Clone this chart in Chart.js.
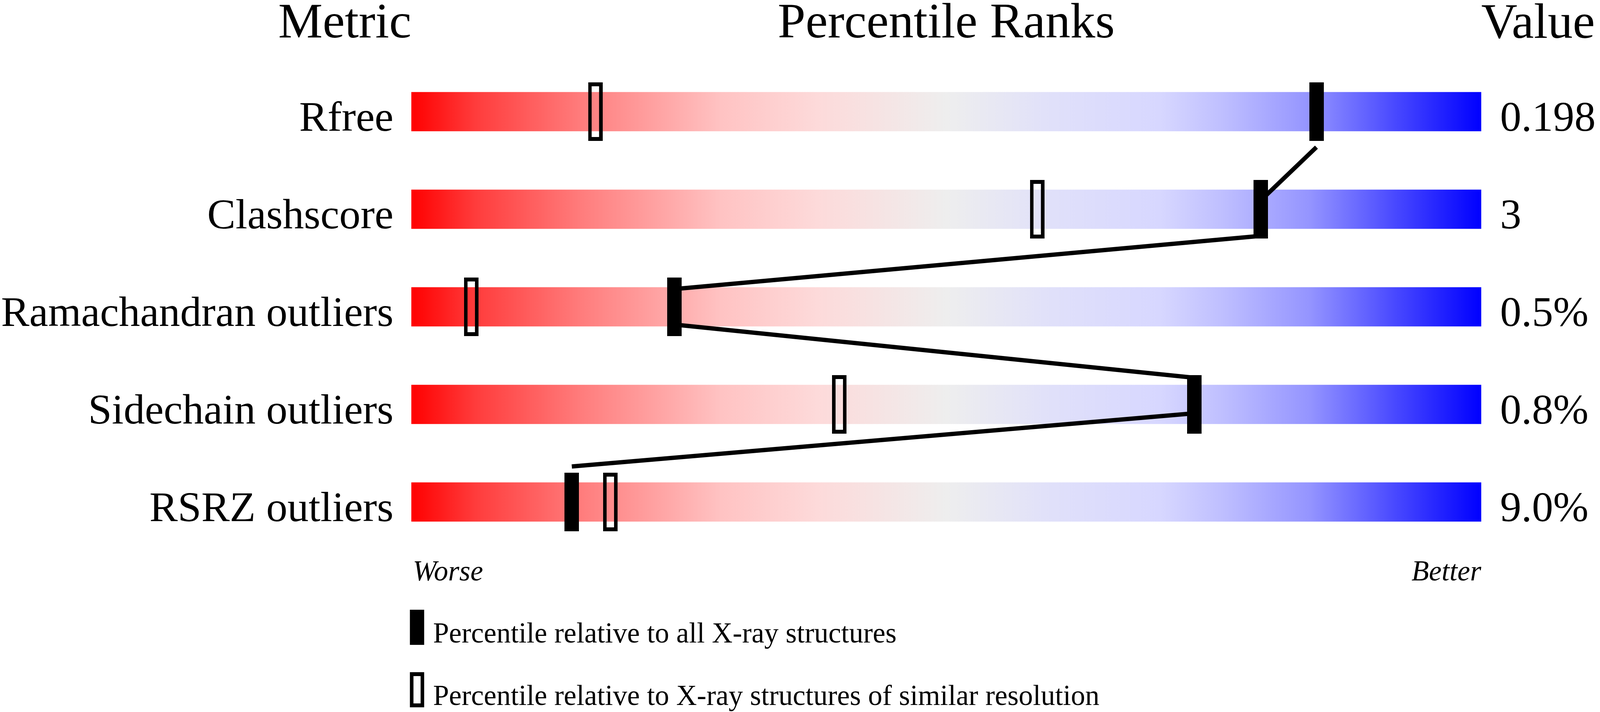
<!DOCTYPE html>
<html>
<head>
<meta charset="utf-8">
<title>Percentile Ranks</title>
<script src="https://cdn.jsdelivr.net/npm/chart.js@4.4.1/dist/chart.umd.min.js"></script>
<style>
    html, body { margin: 0; padding: 0; background: #fff; overflow: hidden; }
    #wrap { position: relative; }
</style>
</head>
<body>
<div id="wrap"><canvas id="myChart"></canvas></div>
<script>
const metrics = ['Rfree', 'Clashscore', 'Ramachandran outliers', 'Sidechain outliers', 'RSRZ outliers'];
const metricValues = ['0.198', '3', '0.5%', '0.8%', '9.0%'];
// percentile vs all X-ray structures (filled marks)
const pctAll = [84.6, 79.4, 24.6, 73.2, 15.0];
// percentile vs structures of similar resolution (open marks)
const pctSimilar = [17.2, 58.5, 5.6, 40.0, 18.6];
const headers = ['Metric', 'Percentile Ranks', 'Value'];
const endLabels = ['Worse', 'Better'];
const legendLabels = ['Percentile relative to all X-ray structures', 'Percentile relative to X-ray structures of similar resolution'];

// red -> grey -> blue bar colours
const gradStops = [0, 0.06, 0.16, 0.29, 0.38, 0.5, 0.6, 0.7, 0.76, 0.84, 0.92, 1];
const gradColors = ['rgb(255,0,0)', 'rgb(255,60,60)', 'rgb(255,125,125)', 'rgb(255,195,195)', 'rgb(253,218,218)',
    'rgb(238,238,238)', 'rgb(224,224,250)', 'rgb(215,215,255)', 'rgb(190,190,255)', 'rgb(148,148,255)',
    'rgb(72,72,255)', 'rgb(0,0,255)'];

const FONT = '"Liberation Serif", "Times New Roman", serif';
const ROW_HALF = 0.2; // half bar height in row units (100px bar, 250px per row)

// page was drawn for 4485x1824, scale to whatever the window really is
const W = window.innerWidth;
const H = window.innerHeight;
const sx = W / 4485;
const sy = H / 1824;
const wrap = document.getElementById('wrap');
wrap.style.width = W + 'px';
wrap.style.height = H + 'px';

const labelSize = 119 * sx;
const headSize = 140 * sx;
const smallSize = 80 * sx;

function makeMark(w, h, hollow) {
    const c = document.createElement('canvas');
    c.width = Math.round(w);
    c.height = Math.round(h);
    const g = c.getContext('2d');
    g.fillStyle = '#000';
    g.fillRect(0, 0, c.width, c.height);
    if (hollow) {
        const bx = Math.round(10 * sx), by = Math.round(10 * sy);
        g.clearRect(bx, by, c.width - 2 * bx, c.height - 2 * by);
    }
    return c;
}
const markFilled = makeMark(40 * sx, 150 * sy, false);
const markHollow = makeMark(40 * sx, 150 * sy, true);

// line joining the filled marks, bottom edge of one bar to top edge of the next
let linePts = [];
for (let i = 0; i < pctAll.length - 1; i++) {
    linePts.push({ x: pctAll[i], y: i + ROW_HALF });
    linePts.push({ x: pctAll[i + 1], y: i + 1 - ROW_HALF });
}

function barGradient(context) {
    const chart = context.chart;
    const area = chart.chartArea;
    if (!area) return '#eee';
    const g = chart.ctx.createLinearGradient(chart.scales.x.getPixelForValue(0), 0, chart.scales.x.getPixelForValue(100), 0);
    for (let i = 0; i < gradStops.length; i++) g.addColorStop(gradStops[i], gradColors[i]);
    return g;
}

const extras = {
    id: 'extras',
    afterDraw(chart) {
        const ctx = chart.ctx;
        const a = chart.chartArea;
        ctx.save();
        ctx.fillStyle = '#000';
        ctx.textBaseline = 'alphabetic';
        ctx.font = headSize + 'px ' + FONT;
        ctx.textAlign = 'right';
        ctx.fillText(headers[0], a.left, 96 * sy);
        ctx.textAlign = 'center';
        ctx.fillText(headers[1], (a.left + a.right) / 2, 96 * sy);
        ctx.textAlign = 'left';
        ctx.fillText(headers[2], a.right, 97 * sy);

        ctx.font = 'italic ' + smallSize + 'px ' + FONT;
        ctx.textAlign = 'left';
        ctx.fillText(endLabels[0], a.left + 4 * sx, a.bottom + 76 * sy);
        ctx.textAlign = 'right';
        ctx.fillText(endLabels[1], a.right, a.bottom + 76 * sy);

        // legend
        ctx.font = smallSize + 'px ' + FONT;
        ctx.textAlign = 'left';
        for (let i = 0; i < legendLabels.length; i++) {
            const top = a.bottom + (151 + i * 160) * sy;
            const bw = 40 * sx, bh = 90 * sy;
            ctx.fillStyle = '#000';
            ctx.fillRect(a.left - 4 * sx, top, bw, bh);
            if (i === 1) {
                ctx.fillStyle = '#fff';
                ctx.fillRect(a.left + 6 * sx, top + 10 * sy, bw - 20 * sx, bh - 20 * sy);
                ctx.fillStyle = '#000';
            }
            ctx.fillText(legendLabels[i], a.left + 61 * sx, top + 84 * sy);
        }
        ctx.restore();
    }
};

const ctx = document.getElementById('myChart');

new Chart(ctx, {
    type: 'bar',
    data: {
        labels: metrics,
        datasets: [
            {
                label: 'Filled',
                type: 'scatter',
                data: pctAll.map((p, i) => ({ x: p, y: metrics[i] })),
                pointStyle: markFilled,
                pointRadius: 1,
                xAxisID: 'x',
                yAxisID: 'y',
                order: 1
            },
            {
                label: 'Hollow',
                type: 'scatter',
                data: pctSimilar.map((p, i) => ({ x: p, y: metrics[i] })),
                pointStyle: markHollow,
                pointRadius: 1,
                xAxisID: 'x',
                yAxisID: 'y',
                order: 2
            },
            {
                label: 'Link',
                type: 'line',
                data: linePts,
                borderColor: '#000',
                borderWidth: 11 * sy,
                borderJoinStyle: 'round',
                pointRadius: 0,
                tension: 0,
                fill: false,
                xAxisID: 'x',
                yAxisID: 'yl',
                order: 3
            },
            {
                label: 'Range',
                data: metrics.map(() => [0, 100]),
                backgroundColor: barGradient,
                borderWidth: 0,
                barThickness: 100 * sy,
                grouped: false,
                xAxisID: 'x',
                yAxisID: 'y',
                order: 4
            }
        ]
    },
    options: {
        indexAxis: 'y',
        responsive: true,
        maintainAspectRatio: false,
        devicePixelRatio: window.devicePixelRatio || 1,
        animation: false,
        events: [],
        layout: { padding: { top: 161 * sy, bottom: 413 * sy, left: 0, right: 0 } },
        scales: {
            x: { type: 'linear', min: 0, max: 100, display: false },
            y: {
                type: 'category',
                position: 'left',
                offset: true,
                grid: { display: false, drawTicks: false },
                border: { display: false },
                ticks: { color: '#000', font: { family: FONT, size: labelSize }, padding: 50 * sx, labelOffset: 49 * sy - 0.26 * labelSize },
                afterFit(s) { s.width = 1153 * sx; }
            },
            yv: {
                type: 'category',
                labels: metricValues,
                position: 'right',
                offset: true,
                grid: { display: false, drawTicks: false },
                border: { display: false },
                ticks: { color: '#000', font: { family: FONT, size: labelSize }, padding: 53 * sx, labelOffset: 49 * sy - 0.26 * labelSize },
                afterFit(s) { s.width = 333 * sx; }
            },
            yl: { type: 'linear', min: -0.5, max: 4.5, reverse: true, display: false }
        },
        plugins: {
            legend: { display: false },
            tooltip: { enabled: false }
        }
    },
    plugins: [extras]
});
</script>
</body>
</html>
